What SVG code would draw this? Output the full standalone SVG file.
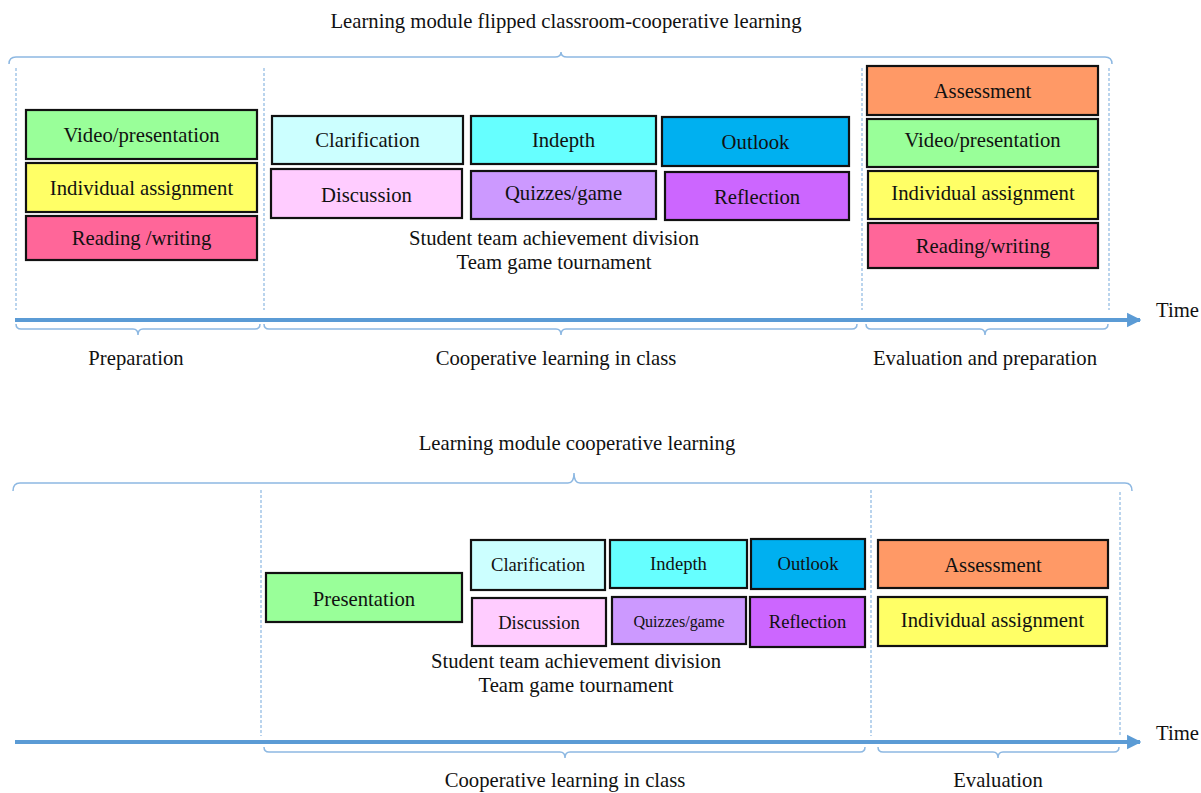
<svg xmlns="http://www.w3.org/2000/svg" width="1201" height="793" viewBox="0 0 1201 793" font-family="'Liberation Serif', 'DejaVu Serif', serif">
  <defs>
    <style>
      text { font-family: 'Liberation Serif', 'DejaVu Serif', serif; font-size: 20.7px; fill: #111; text-anchor: middle; }
      .box { stroke: #111; stroke-width: 2.2; }
      .sm { font-size: 18.6px; }
      .xs { font-size: 16.1px; }
      .brace { fill: none; stroke: #8DB8E2; stroke-width: 1.5; }
      .guide { stroke: #8DB8E2; stroke-width: 1.2; stroke-dasharray: 3 2; }
      .axis { stroke: #5B9BD5; stroke-width: 4; }
      .t-left { text-anchor: start; }
      .green { fill: #99FF99; } .yellow { fill: #FFFF66; } .rose { fill: #FF6699; }
      .ice { fill: #CCFFFF; } .aqua { fill: #66FFFF; } .sky { fill: #00B0F0; }
      .blush { fill: #FFCCFF; } .lilac { fill: #CC99FF; } .violet { fill: #CC66FF; }
      .orange { fill: #FF9966; }
    </style>
    <marker id="arrowhead" viewBox="0 0 10 10" refX="9" refY="5" markerWidth="3.6" markerHeight="4" orient="auto" markerUnits="strokeWidth">
      <path d="M0,0 L10,5 L0,10 Z" fill="#5B9BD5"/>
    </marker>
  </defs>

  <!-- ===== Upper module: flipped classroom ===== -->
  <text x="566" y="28">Learning module flipped classroom-cooperative learning</text>

  <g id="connectors">
    <!-- upper module brackets and guides -->
    <path class="brace" d="M9,64 Q9,57 16,57 L555,57 Q561,57 561,52 Q561,57 567,57 L1105,57 Q1112,57 1112,64"/>
    <line class="guide" x1="16" y1="68" x2="16" y2="310"/>
    <line class="guide" x1="264" y1="68" x2="264" y2="310"/>
    <line class="guide" x1="862" y1="68" x2="862" y2="310"/>
    <line class="guide" x1="1109" y1="68" x2="1109" y2="310"/>
    <line class="axis" x1="15" y1="320" x2="1140" y2="320" marker-end="url(#arrowhead)"/>
    <path class="brace" d="M16,324 Q16,329 21,329 L133,329 Q138,329 138,335 Q138,329 143,329 L255,329 Q260,329 260,324"/>
    <path class="brace" d="M264,324 Q264,329 269,329 L556,329 Q561,329 561,335 Q561,329 566,329 L852,329 Q857,329 857,324"/>
    <path class="brace" d="M866,324 Q866,329 871,329 L980,329 Q985,329 985,335 Q985,329 990,329 L1103,329 Q1108,329 1108,324"/>

    <!-- lower module brackets and guides -->
    <path class="brace" d="M13,491 Q13,483 20,483 L568,483 Q574,483 574,473 Q574,483 580,483 L1125,483 Q1132,483 1132,491"/>
    <line class="guide" x1="261" y1="490" x2="261" y2="736"/>
    <line class="guide" x1="871" y1="490" x2="871" y2="736"/>
    <line class="guide" x1="1120" y1="492" x2="1120" y2="736"/>
    <line class="axis" x1="15" y1="742" x2="1140" y2="742" marker-end="url(#arrowhead)"/>
    <path class="brace" d="M264,747 Q264,752 269,752 L560,752 Q565,752 565,758 Q565,752 570,752 L860,752 Q865,752 865,747"/>
    <path class="brace" d="M878,747 Q878,752 883,752 L993,752 Q998,752 998,758 Q998,752 1003,752 L1114,752 Q1119,752 1119,747"/>
  </g>

  <text class="t-left" x="1156" y="317">Time</text>
  <text x="136" y="365">Preparation</text>
  <text x="556" y="365">Cooperative learning in class</text>
  <text x="985" y="365">Evaluation and preparation</text>

  <!-- preparation phase -->
  <g id="prep-video"><rect class="box green" x="26" y="110" width="231" height="49"/><text x="141.5" y="142">Video/presentation</text></g>
  <g id="prep-assignment"><rect class="box yellow" x="26" y="163" width="231" height="49"/><text x="141.5" y="195">Individual assignment</text></g>
  <g id="prep-reading"><rect class="box rose" x="26" y="216" width="231" height="44"/><text x="141.5" y="245">Reading /writing</text></g>

  <!-- in-class phase -->
  <g id="class-clarification"><rect class="box ice" x="272" y="116" width="191" height="48"/><text x="367.5" y="147">Clarification</text></g>
  <g id="class-indepth"><rect class="box aqua" x="471" y="116" width="185" height="48"/><text x="563.5" y="147">Indepth</text></g>
  <g id="class-outlook"><rect class="box sky" x="662" y="117" width="187" height="49"/><text x="755.5" y="149">Outlook</text></g>
  <g id="class-discussion"><rect class="box blush" x="271" y="169" width="191" height="49"/><text x="366.5" y="202">Discussion</text></g>
  <g id="class-quizzes"><rect class="box lilac" x="471" y="171" width="185" height="48"/><text x="563.5" y="200">Quizzes/game</text></g>
  <g id="class-reflection"><rect class="box violet" x="665" y="172" width="184" height="48"/><text x="757" y="204">Reflection</text></g>
  <text x="554" y="245">Student team achievement division</text>
  <text x="554" y="269">Team game tournament</text>

  <!-- evaluation phase -->
  <g id="eval-assessment"><rect class="box orange" x="867" y="66" width="231" height="49"/><text x="982.5" y="98">Assessment</text></g>
  <g id="eval-video"><rect class="box green" x="867" y="119" width="231" height="48"/><text x="982.5" y="147">Video/presentation</text></g>
  <g id="eval-assignment"><rect class="box yellow" x="868" y="171" width="230" height="48"/><text x="983" y="200">Individual assignment</text></g>
  <g id="eval-reading"><rect class="box rose" x="868" y="223" width="230" height="45"/><text x="983" y="253">Reading/writing</text></g>

  <!-- ===== Lower module: cooperative learning ===== -->
  <text x="577" y="450">Learning module cooperative learning</text>
  <text class="t-left" x="1156" y="740">Time</text>
  <text x="565" y="787">Cooperative learning in class</text>
  <text x="998" y="787">Evaluation</text>

  <g id="coop-presentation"><rect class="box green" x="266" y="573" width="196" height="49"/><text x="364" y="606">Presentation</text></g>
  <g id="coop-clarification"><rect class="box ice" x="471" y="540" width="134" height="50"/><text class="sm" x="538" y="571">Clarification</text></g>
  <g id="coop-indepth"><rect class="box aqua" x="610" y="540" width="137" height="48"/><text class="sm" x="678.5" y="570">Indepth</text></g>
  <g id="coop-outlook"><rect class="box sky" x="751" y="539" width="114" height="50"/><text class="sm" x="808" y="570">Outlook</text></g>
  <g id="coop-discussion"><rect class="box blush" x="472" y="598" width="134" height="48"/><text class="sm" x="539" y="629">Discussion</text></g>
  <g id="coop-quizzes"><rect class="box lilac" x="612" y="597" width="134" height="47"/><text class="xs" x="679" y="627">Quizzes/game</text></g>
  <g id="coop-reflection"><rect class="box violet" x="750" y="597" width="115" height="50"/><text class="sm" x="807.5" y="628">Reflection</text></g>
  <text x="576" y="668">Student team achievement division</text>
  <text x="576" y="692">Team game tournament</text>

  <g id="final-assessment"><rect class="box orange" x="878" y="540" width="230" height="48"/><text x="993" y="572">Assessment</text></g>
  <g id="final-assignment"><rect class="box yellow" x="878" y="597" width="229" height="49"/><text x="992.5" y="627">Individual assignment</text></g>
</svg>
